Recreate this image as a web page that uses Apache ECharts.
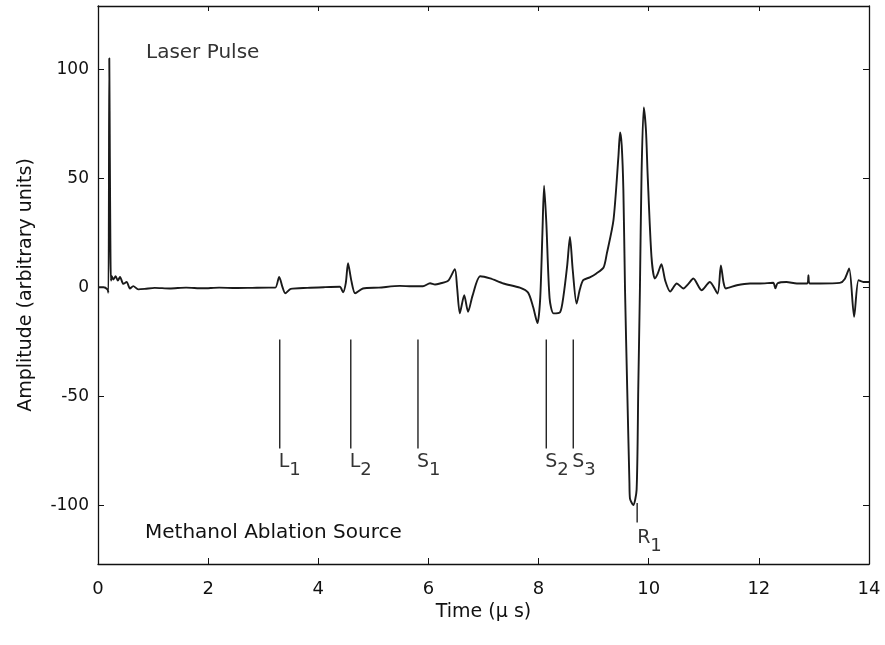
<!DOCTYPE html>
<html>
<head>
<meta charset="utf-8">
<script src="https://cdn.jsdelivr.net/npm/echarts@6/dist/echarts.min.js"></script>
<style>
html,body{margin:0;padding:0;background:#fff;}
#chart{width:885px;height:645px;}
</style>
</head>
<body>
<div id="chart"></div>
<script>
// Time (µs)
var time = [0, 0.1, 0.17, 0.19, 0.205, 0.215, 0.225, 0.235, 0.25, 0.28, 0.32, 0.36, 0.40, 0.46, 0.52, 0.58, 0.64, 0.73, 0.85, 1.03, 1.3, 1.6, 1.9, 2.2, 2.5, 2.8, 3.1, 3.22, 3.29, 3.35, 3.40, 3.5, 3.8, 4.1, 4.39, 4.45, 4.50, 4.54, 4.60, 4.67, 4.81, 5.1, 5.48, 5.7, 5.9, 6.03, 6.12, 6.21, 6.36, 6.48, 6.52, 6.57, 6.65, 6.72, 6.80, 6.94, 7.12, 7.36, 7.66, 7.81, 7.90, 7.98, 8.03, 8.07, 8.10, 8.14, 8.20, 8.27, 8.39, 8.45, 8.52, 8.57, 8.62, 8.69, 8.75, 8.81, 8.93, 9.05, 9.18, 9.24, 9.36, 9.45, 9.48, 9.51, 9.54, 9.57, 9.61, 9.65, 9.66, 9.72, 9.78, 9.81, 9.84, 9.87, 9.91, 9.95, 9.98, 10.05, 10.11, 10.16, 10.23, 10.30, 10.39, 10.51, 10.63, 10.72, 10.81, 10.96, 11.11, 11.25, 11.31, 11.36, 11.40, 11.60, 11.84, 12.02, 12.26, 12.30, 12.34, 12.5, 12.69, 12.88, 12.9, 12.92, 13.11, 13.47, 13.56, 13.64, 13.73, 13.81, 13.9, 14];
// Amplitude (arbitrary units)
var amplitude = [0, 0, -1, -2.5, 105, 60, 20, 3, 5, 3.5, 5, 3, 4.7, 1.5, 2.4, -0.6, 0.5, -1, -0.8, -0.3, -0.6, -0.2, -0.5, -0.2, -0.4, -0.3, -0.2, -0.2, 4.7, 0, -2.8, -0.8, -0.3, 0, 0.2, -2.3, 2, 11, 3, -2.8, -0.6, -0.2, 0.6, 0.4, 0.4, 1.8, 1.2, 1.7, 3, 8.3, 0, -12, -3.7, -11.3, -4, 5, 4, 1.7, -0.2, -2.5, -9, -16.5, -5, 25, 46.5, 30, -5, -12, -11.5, -4.4, 10, 23, 8, -7.5, -1, 3.2, 4.5, 6.3, 9, 15.5, 30.8, 60, 71, 65, 44.5, -1.4, -47, -90, -97, -100, -93, -47, -1.4, 52, 82.5, 72, 52, 14, 4, 6, 10.5, 3, -2, 1.7, -0.6, 1.5, 4, -1.4, 2.4, -2.9, 10, 2, -0.6, 0.9, 1.7, 1.7, 2, -0.5, 1.8, 2.4, 1.7, 1.7, 5.5, 1.7, 1.7, 2, 3.8, 8.6, -13.6, 3.2, 2.4, 2.4];

// Arrival markers
var markerLetters = ['L', 'L', 'S', 'S', 'S', 'R'];
var markerSubs = ['1', '2', '1', '2', '3', '1'];
var markerTimes = [3.30, 4.59, 5.81, 8.14, 8.63, 9.79];
var markerTop = [-24, -24, -24, -24, -24, -99];
var markerBottom = [-74, -74, -74, -74, -74, -108];

var xTicks = [0, 2, 4, 6, 8, 10, 12, 14];
var yTicks = [-100, -50, 0, 50, 100];

var FONT = '"DejaVu Sans", "Liberation Sans", Arial, sans-serif';
var INK = '#111';

var chart = echarts.init(document.getElementById('chart'));

var curve = time.map(function (t, i) { return [t, amplitude[i]]; });

var series = [{
  type: 'line',
  data: curve,
  showSymbol: false,
  symbol: 'none',
  smooth: 0.25,
  lineStyle: { color: '#1a1a1a', width: 1.9 },
  animation: false,
  z: 3
}];

markerTimes.forEach(function (t, i) {
  series.push({
    type: 'line',
    data: [[t, markerTop[i]], [t, markerBottom[i]]],
    symbol: 'none',
    lineStyle: { color: '#222', width: 1.4 },
    animation: false,
    z: 2
  });
});

series.push({
  type: 'scatter',
  symbolSize: 0,
  animation: false,
  data: markerTimes.map(function (t, i) {
    var item = { value: [t, markerBottom[i]] };
    if (markerLetters[i] === 'R') { item.label = { position: [0, 6] }; }
    return item;
  }),
  label: {
    show: true,
    position: [-1, 4],
    align: 'left',
    verticalAlign: 'top',
    fontFamily: FONT,
    fontSize: 19,
    color: '#000',
    formatter: function (p) {
      return '{big|' + markerLetters[p.dataIndex] + '}{sub|' + markerSubs[p.dataIndex] + '}';
    },
    rich: {
      big: { fontFamily: FONT, fontSize: 19, color: '#000', verticalAlign: 'top', lineHeight: 21 },
      sub: { fontFamily: FONT, fontSize: 18, color: '#000', verticalAlign: 'top', lineHeight: 21, padding: [9, 0, 0, 0] }
    }
  }
});

var axisLineStyle = { color: '#111', width: 1.3 };

chart.setOption({
  animation: false,
  backgroundColor: '#fff',
  grid: { left: 98, right: 16, top: 6, bottom: 81, containLabel: false },
  xAxis: [{
    type: 'value', min: 0, max: 14, interval: 2,
    name: 'Time (\u03bc s)', nameLocation: 'middle', nameGap: 31,
    nameTextStyle: { fontFamily: FONT, fontSize: 19, color: INK },
    axisLine: { onZero: false, lineStyle: axisLineStyle },
    axisTick: { inside: true, length: 6, lineStyle: { color: '#111' } },
    axisLabel: { fontFamily: FONT, fontSize: 18, color: INK, margin: 16 },
    splitLine: { show: false }
  }, {
    type: 'value', min: 0, max: 14, interval: 2, position: 'top',
    axisLine: { show: true, onZero: false, lineStyle: axisLineStyle },
    axisTick: { inside: true, length: 5, lineStyle: { color: '#111' } },
    axisLabel: { show: false },
    splitLine: { show: false }
  }],
  yAxis: [{
    type: 'value', min: -127, max: 129,
    name: 'Amplitude (arbitrary units)', nameLocation: 'middle', nameGap: 62, nameRotate: 90,
    nameTextStyle: { fontFamily: FONT, fontSize: 19, color: INK },
    axisLine: { show: true, onZero: false, lineStyle: axisLineStyle },
    axisTick: { inside: true, length: 6, customValues: yTicks, lineStyle: { color: '#111' } },
    axisLabel: { fontFamily: FONT, fontSize: 17, color: INK, margin: 9, customValues: yTicks },
    splitLine: { show: false }
  }, {
    type: 'value', min: -127, max: 129, position: 'right',
    axisLine: { show: true, onZero: false, lineStyle: axisLineStyle },
    axisTick: { inside: true, length: 6, customValues: yTicks, lineStyle: { color: '#111' } },
    axisLabel: { show: false, customValues: yTicks },
    splitLine: { show: false }
  }],
  graphic: [
    { type: 'text', left: 146, top: 43, style: { text: 'Laser Pulse', font: '20px ' + FONT, fill: '#333' } },
    { type: 'text', left: 145, top: 523, style: { text: 'Methanol Ablation Source', font: '20px ' + FONT, fill: INK } }
  ],
  series: series
});
</script>
</body>
</html>
